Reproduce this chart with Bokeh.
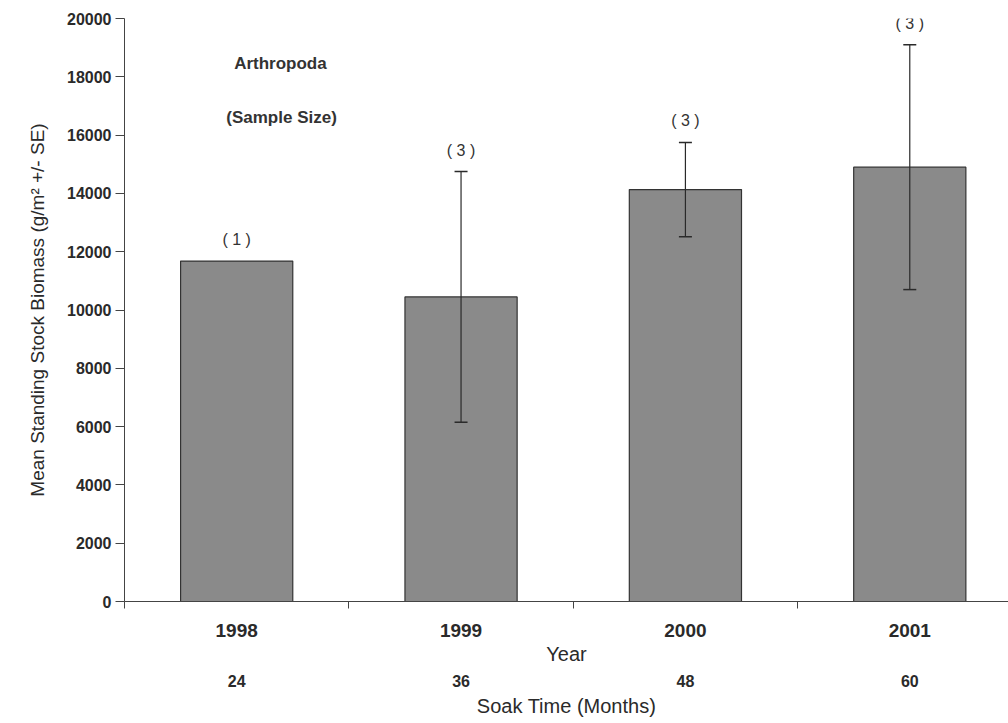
from bokeh.plotting import figure
from bokeh.models import (ColumnDataSource, Range1d, LinearAxis, FixedTicker,
                          Whisker, TeeHead, LabelSet, Label)
from bokeh.core.properties import value
from bokeh.embed import file_html
from bokeh.resources import INLINE

# ---- data ----
years = ["1998", "1999", "2000", "2001"]
soak_months = ["24", "36", "48", "60"]
mean_biomass = [11680, 10450, 14130, 14900]
se_biomass = [None, 4300, 1620, 4200]
sample_size = [1, 3, 3, 3]
y_ticks = [0, 2000, 4000, 6000, 8000, 10000, 12000, 14000, 16000, 18000, 20000]

FONT = "Liberation Sans"
INK = "#2a2a2a"

centers = [i + 0.5 for i in range(len(years))]
bounds = [float(i) for i in range(len(years) + 1)]

bar_src = ColumnDataSource(dict(x=centers, top=mean_biomass))

wx, wu, wl = [], [], []
for c, m, s in zip(centers, mean_biomass, se_biomass):
    if s is not None:
        wx.append(c); wu.append(m + s); wl.append(m - s)
wsrc = ColumnDataSource(dict(x=wx, upper=wu, lower=wl))

lab_y = [m + (s if s is not None else 0) for m, s in zip(mean_biomass, se_biomass)]
lab_src = ColumnDataSource(dict(x=centers, y=lab_y,
                                t=["( %d )" % n for n in sample_size]))

p = figure(width=1008, height=723, output_backend="svg", toolbar_location=None,
           x_range=Range1d(0, 3.94), y_range=Range1d(0, 20000),
           x_axis_type=None,
           min_border_left=124, min_border_right=0, min_border_top=18,
           min_border_bottom=122)
p.outline_line_color = None
p.xgrid.visible = False
p.ygrid.visible = False
p.background_fill_color = "white"
p.border_fill_color = "white"

p.vbar(x="x", top="top", width=0.5, source=bar_src,
       fill_color="#8a8a8a", line_color="#333333", line_width=1.2)

p.add_layout(Whisker(source=wsrc, base="x", upper="upper", lower="lower",
                     level="overlay",
                     line_color="#2a2a2a", line_width=1.2,
                     upper_head=TeeHead(size=13, line_color="#2a2a2a", line_width=1.5),
                     lower_head=TeeHead(size=13, line_color="#2a2a2a", line_width=1.5)))

p.add_layout(LabelSet(source=lab_src, x="x", y="y", text="t", y_offset=13,
                      text_align="center", text_baseline="bottom",
                      text_font=value(FONT), text_font_size=value("16px"),
                      text_color="#333333"))

p.add_layout(Label(x=0.695, y=18450, text="Arthropoda", text_align="center",
                   text_baseline="middle", text_font=FONT, text_font_size="17px",
                   text_font_style="bold", text_color="#333333"))
p.add_layout(Label(x=0.70, y=16600, text="(Sample Size)", text_align="center",
                   text_baseline="middle", text_font=FONT, text_font_size="17px",
                   text_font_style="bold", text_color="#333333"))

# y axis
ya = p.yaxis[0]
ya.ticker = FixedTicker(ticks=y_ticks)
ya.axis_label = "Mean Standing Stock Biomass (g/m\u00b2 +/- SE)"
ya.axis_label_text_font = FONT
ya.axis_label_text_font_size = "19px"
ya.axis_label_text_font_style = "normal"
ya.axis_label_text_color = INK
ya.axis_label_standoff = 16
ya.major_label_text_font = FONT
ya.major_label_text_font_size = "16px"
ya.major_label_text_font_style = "bold"
ya.major_label_text_color = INK
ya.major_label_standoff = 4
ya.major_tick_out = 9
ya.major_tick_in = 0
ya.minor_tick_line_color = None
ya.axis_line_color = "#444444"
ya.major_tick_line_color = "#444444"

# x axis: years
ax1 = LinearAxis(ticker=FixedTicker(ticks=centers, minor_ticks=bounds),
                 major_label_overrides={c: y for c, y in zip(centers, years)},
                 axis_label="Year")
ax1.major_tick_out = 0
ax1.major_tick_in = 0
ax1.minor_tick_out = 7
ax1.minor_tick_in = 0
ax1.major_label_standoff = 15
ax1.major_label_text_font = FONT
ax1.major_label_text_font_size = "19px"
ax1.major_label_text_font_style = "bold"
ax1.major_label_text_color = INK
ax1.axis_label_text_font = FONT
ax1.axis_label_text_font_size = "20px"
ax1.axis_label_text_font_style = "normal"
ax1.axis_label_text_color = INK
ax1.axis_label_standoff = 3
ax1.axis_line_color = "#444444"
ax1.minor_tick_line_color = "#444444"
p.add_layout(ax1, "below")

# x axis: soak time
ax2 = LinearAxis(ticker=FixedTicker(ticks=centers),
                 major_label_overrides={c: s for c, s in zip(centers, soak_months)},
                 axis_label="Soak Time (Months)")
ax2.axis_line_color = None
ax2.major_tick_line_color = None
ax2.minor_tick_line_color = None
ax2.major_tick_out = 0
ax2.major_tick_in = 0
ax2.major_label_standoff = 7
ax2.major_label_text_font = FONT
ax2.major_label_text_font_size = "16px"
ax2.major_label_text_font_style = "bold"
ax2.major_label_text_color = INK
ax2.axis_label_text_font = FONT
ax2.axis_label_text_font_size = "20px"
ax2.axis_label_text_font_style = "normal"
ax2.axis_label_text_color = INK
ax2.axis_label_standoff = 5
p.add_layout(ax2, "below")

open("out.html", "w").write(file_html(p, INLINE))
